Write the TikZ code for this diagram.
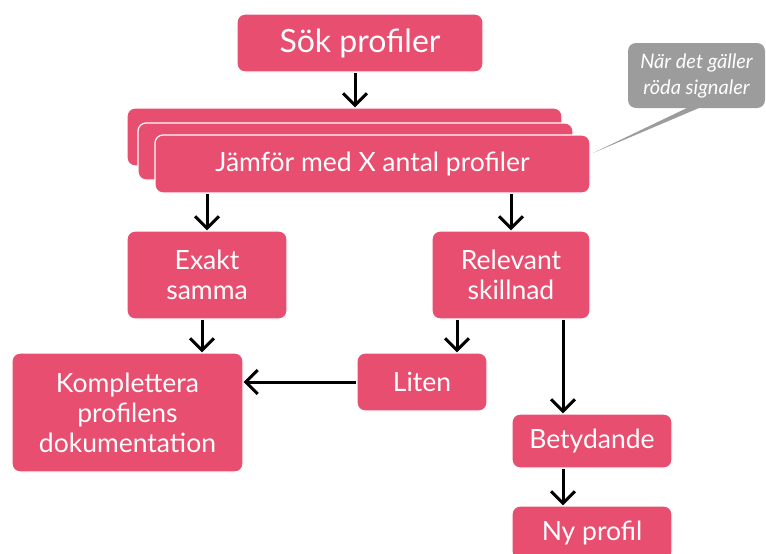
\documentclass[tikz,border=0pt]{standalone}
\usepackage{fontspec}
\setmainfont{Lato}
\usepackage{tikz}
\usetikzlibrary{arrows.meta}

\definecolor{rosa}{HTML}{E84E6F}
\definecolor{gra}{HTML}{9C9C9C}

\tikzset{
  ruta/.style={fill=rosa, draw=white, line width=1.2pt, rounded corners=8pt,
               text=white, align=center, inner sep=0pt, font=\fontsize{26.5}{30}\selectfont},
  pil/.style={line width=3pt, -{Straight Barb[length=12pt,width=24pt,line width=3pt]}},
}

\begin{document}
\begin{tikzpicture}[x=1pt,y=-1pt]
\clip (0,0) rectangle (766,554);

\node[ruta, minimum width=246, minimum height=58, font=\fontsize{32}{36}\selectfont] (sok) at (360,43) {Sök profiler};

% stapel av profiler
\node[ruta, minimum width=435, minimum height=58] (bak) at (344.5,137) {};
\node[ruta, minimum width=435, minimum height=57] (mitt) at (355.5,151.5) {};
\node[ruta, minimum width=435, minimum height=58] (jamfor) at (372.5,164) {Jämför med X antal profiler};

\node[ruta, minimum width=160, minimum height=88] (exakt) at (207,275) {Exakt\\samma};
\node[ruta, minimum width=158, minimum height=88] (relevant) at (511,275) {Relevant\\skillnad};
\node[ruta, minimum width=231, minimum height=119] (kompl) at (127.5,412.5) {Komplettera\\profilens\\dokumentation};
\node[ruta, minimum width=130, minimum height=58] (liten) at (422,382) {Liten};
\node[ruta, minimum width=160, minimum height=54] (betyd) at (592,441) {Betydande};
\node[ruta, minimum width=160, minimum height=54] (nyprof) at (592,533) {Ny profil};

% pratbubbla
\node[fill=gra, rounded corners=8pt, minimum width=137, minimum height=65, inner sep=0pt,
      text=white, align=center, font=\fontsize{20}{26}\selectfont\itshape] (not) at (696.5,75.5)
      {När det gäller\\röda signaler};
\coordinate (spets) at (593,153);
\fill[gra] ([xshift=-10pt]not.south) -- (spets) -- ([xshift=2pt]not.south) -- cycle;

\draw[pil] ([xshift=-5pt]sok.south) -- ([xshift=-5pt]sok.south |- bak.north);
\draw[pil] (exakt.north |- jamfor.south) -- (exakt.north);
\draw[pil] (relevant.north |- jamfor.south) -- (relevant.north);
\draw[pil] ([xshift=-5pt]exakt.south) -- ([xshift=-5pt]exakt.south |- kompl.north);
\draw[pil] ([xshift=35pt]liten.north |- relevant.south) -- ([xshift=35pt]liten.north);
\draw[pil] ([xshift=-29pt]betyd.north |- relevant.south) -- ([xshift=-29pt]betyd.north);
\draw[pil] (liten.west) -- (kompl.east |- liten.west);
\draw[pil] ([xshift=-29pt]betyd.south) -- ([xshift=-29pt]nyprof.north);

\end{tikzpicture}
\end{document}
